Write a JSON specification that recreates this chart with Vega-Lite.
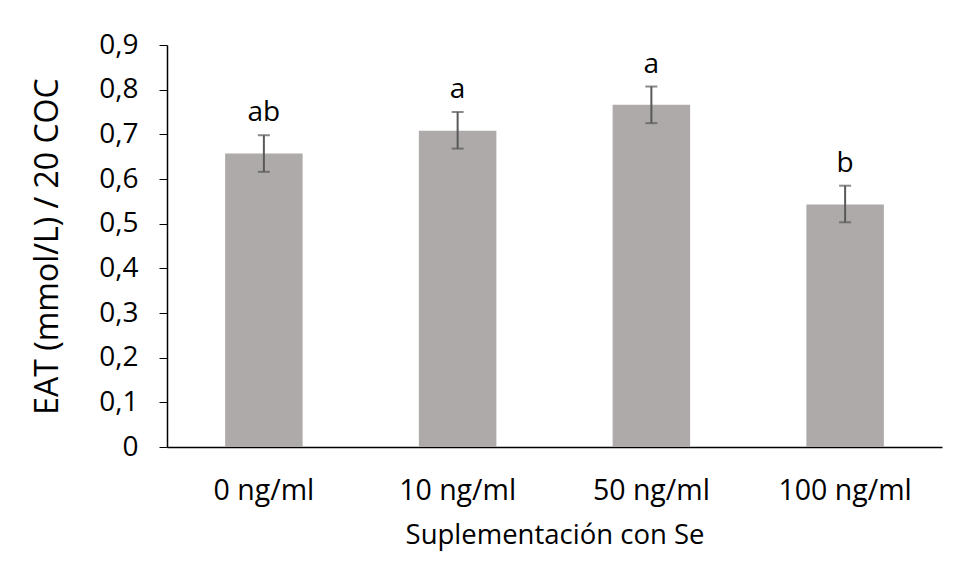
{
  "$schema": "https://vega.github.io/schema/vega-lite/v6.json",
  "width": 775,
  "height": 402,
  "autosize": {"type": "none"},
  "padding": {"left": 167, "top": 45, "right": 16, "bottom": 133},
  "background": "white",
  "config": {
    "font": "Open Sans",
    "view": {"stroke": null},
    "axis": {"grid": false, "domainColor": "#000000", "domainWidth": 1.5, "tickColor": "#000000", "labelColor": "#000000", "titleColor": "#000000", "titleFontWeight": "normal", "labelFont": "Open Sans", "titleFont": "Open Sans"}
  },
  "data": {
    "values": [
      {"grupo": "0 ng/ml", "media": 0.657, "lo": 0.616, "hi": 0.698, "letra": "ab"},
      {"grupo": "10 ng/ml", "media": 0.708, "lo": 0.668, "hi": 0.750, "letra": "a"},
      {"grupo": "50 ng/ml", "media": 0.766, "lo": 0.725, "hi": 0.807, "letra": "a"},
      {"grupo": "100 ng/ml", "media": 0.543, "lo": 0.503, "hi": 0.585, "letra": "b"}
    ]
  },
  "encoding": {
    "x": {
      "field": "grupo", "type": "nominal", "sort": null,
      "scale": {"paddingInner": 0.6, "paddingOuter": 0.3},
      "axis": {"title": "Suplementación con Se", "labelAngle": 0, "ticks": false, "labelPadding": 29, "labelFontSize": 28.5, "titleFontSize": 27.5, "titleBaseline": "top", "titleY": 74}
    }
  },
  "layer": [
    {
      "mark": {"type": "bar", "color": "#AEAAAA"},
      "encoding": {
        "y": {
          "field": "media", "type": "quantitative",
          "scale": {"domain": [0, 0.9], "nice": false},
          "axis": {
            "title": "EAT (mmol/L) / 20 COC",
            "values": [0, 0.1, 0.2, 0.3, 0.4, 0.5, 0.6, 0.7, 0.8, 0.9],
            "labelExpr": "datum.value == 0 ? '0' : replace(format(datum.value, '.1f'), '.', ',')",
            "tickSize": 8, "labelPadding": 21, "labelFontSize": 28,
            "titleFontSize": 32, "titleX": -103, "titleAnchor": "middle"
          }
        }
      }
    },
    {
      "mark": {"type": "rule", "color": "#595959", "strokeWidth": 2},
      "encoding": {"y": {"field": "lo", "type": "quantitative"}, "y2": {"field": "hi"}}
    },
    {
      "mark": {"type": "tick", "orient": "horizontal", "color": "#595959", "thickness": 2, "size": 12},
      "encoding": {"y": {"field": "lo", "type": "quantitative"}}
    },
    {
      "mark": {"type": "tick", "orient": "horizontal", "color": "#595959", "thickness": 2, "size": 12},
      "encoding": {"y": {"field": "hi", "type": "quantitative"}}
    },
    {
      "mark": {"type": "text", "baseline": "alphabetic", "dy": -14, "fontSize": 28, "color": "#000000", "font": "Open Sans"},
      "encoding": {"y": {"field": "hi", "type": "quantitative"}, "text": {"field": "letra"}}
    }
  ]
}
